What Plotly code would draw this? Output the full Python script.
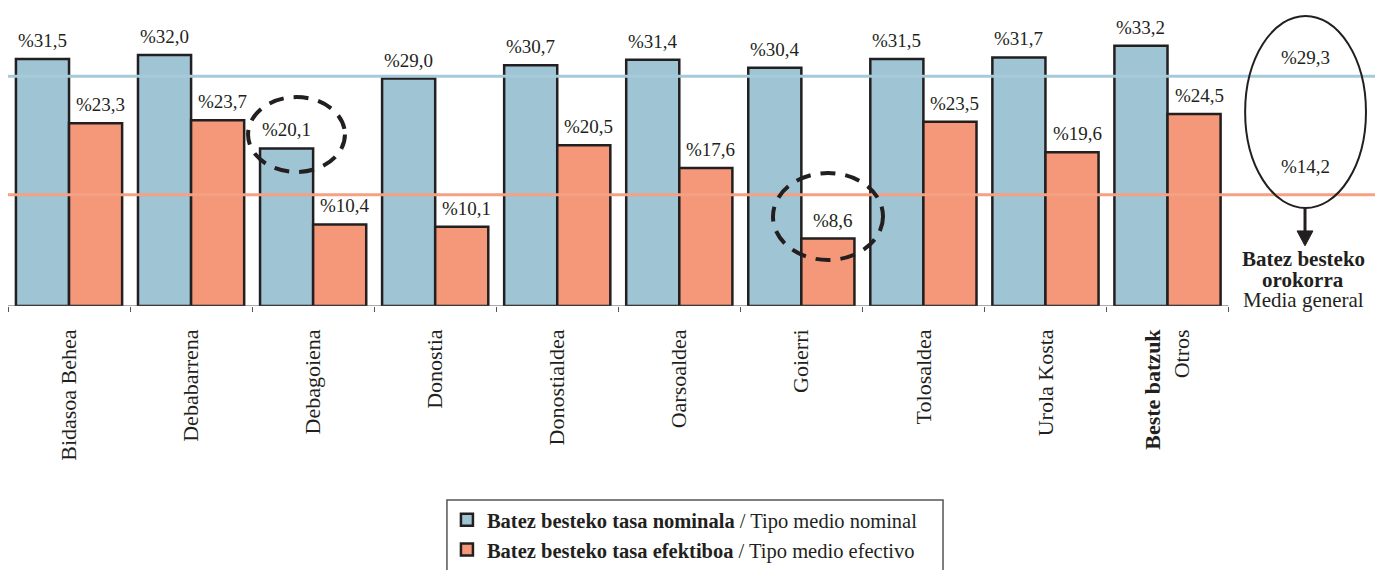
import plotly.graph_objects as go

# data
regions = ["Bidasoa Behea", "Debabarrena", "Debagoiena", "Donostia", "Donostialdea",
           "Oarsoaldea", "Goierri", "Tolosaldea", "Urola Kosta", "<b>Beste batzuk</b><br>Otros"]
nominal = [31.5, 32.0, 20.1, 29.0, 30.7, 31.4, 30.4, 31.5, 31.7, 33.2]
effective = [23.3, 23.7, 10.4, 10.1, 20.5, 17.6, 8.6, 23.5, 19.6, 24.5]
avg_nominal = 29.3
avg_effective = 14.2
series_names = ["<b>Batez besteko tasa nominala</b> / Tipo medio nominal",
                "<b>Batez besteko tasa efektiboa</b> / Tipo medio efectivo"]

BLUE = "#9fc4d4"
ORANGE = "#f5987a"
EDGE = "#231f20"
SERIF = "Liberation Serif"

def pct(v):
    return "%" + f"{v:.1f}".replace(".", ",")

fig = go.Figure()
fig.add_trace(go.Bar(x=regions, y=nominal, name=series_names[0],
                     marker=dict(color=BLUE, line=dict(color=EDGE, width=2.5))))
fig.add_trace(go.Bar(x=regions, y=effective, name=series_names[1],
                     marker=dict(color=ORANGE, line=dict(color=EDGE, width=2.5))))

bargap = 0.13
half = (1 - bargap) / 4  # offset of each bar centre from the category centre

annotations = []
for i, (n, e) in enumerate(zip(nominal, effective)):
    for x, v, dx in ((i - half, n, 0), (i + half, e, 5)):
        annotations.append(dict(x=x, y=v, xref="x", yref="y", text=pct(v), showarrow=False,
                                xanchor="center", yanchor="bottom", xshift=dx, yshift=6,
                                font=dict(family=SERIF, size=19, color="#231f20")))

# general averages, right-hand block
side = dict(xref="paper", yref="paper", showarrow=False, xanchor="center", yanchor="middle")
annotations += [
    dict(x=0.9488, y=0.902, text=pct(avg_nominal),
         font=dict(family=SERIF, size=19, color="#231f20"), **side),
    dict(x=0.9488, y=0.507, text=pct(avg_effective),
         font=dict(family=SERIF, size=19, color="#231f20"), **side),
    dict(x=0.9475, y=0.170, text="<b>Batez besteko</b>",
         font=dict(family=SERIF, size=21, color="#231f20"), **side),
    dict(x=0.9475, y=0.094, text="<b>orokorra</b>",
         font=dict(family=SERIF, size=21, color="#231f20"), **side),
    dict(x=0.9475, y=0.020, text="Media general",
         font=dict(family=SERIF, size=21, color="#231f20"), **side),
]

shapes = [
    # baseline under the regions only
    dict(type="line", xref="x", yref="y", x0=-0.5, x1=len(regions) - 0.5, y0=0, y1=0,
         line=dict(color="#555", width=1)),
    # average lines
    dict(type="line", xref="paper", yref="y", x0=0, x1=1, y0=avg_nominal, y1=avg_nominal,
         line=dict(color="#a6cad9", width=3), layer="above"),
    dict(type="line", xref="paper", yref="y", x0=0, x1=1, y0=avg_effective, y1=avg_effective,
         line=dict(color="#f4a184", width=3), layer="above"),
    # ellipse around general averages
    dict(type="circle", xref="paper", yref="paper", x0=0.905, x1=0.9934, y0=0.355, y1=1.051,
         line=dict(color="#231f20", width=2)),
    # arrow
    dict(type="line", xref="paper", yref="paper", x0=0.9488, x1=0.9488, y0=0.355, y1=0.27,
         line=dict(color="#231f20", width=3)),
    dict(type="path", xref="paper", yref="paper",
         path="M 0.9430 0.272 L 0.9546 0.272 L 0.9488 0.218 Z",
         fillcolor="#231f20", line=dict(color="#231f20", width=1)),
    # dashed highlight circles
    dict(type="circle", xref="paper", yref="paper", x0=0.1756, x1=0.2465, y0=0.4855, y1=0.757,
         line=dict(color="#231f20", width=4, dash="15px,10px"), layer="above"),
    dict(type="circle", xref="paper", yref="paper", x0=0.5596, x1=0.6401, y0=0.1667, y1=0.4819,
         line=dict(color="#231f20", width=4, dash="15px,10px"), layer="above"),
    # legend frame
    dict(type="rect", xref="paper", yref="paper", x0=0.3211, x1=0.684, y0=-0.703, y1=-1.0,
         line=dict(color="#555", width=1.5)),
]

# the page body has an 8px margin, so the figure is sized to sit inside it
fig.update_layout(
    width=1367, height=562,
    margin=dict(l=0, r=0, t=22, b=264, autoexpand=False),
    paper_bgcolor="white", plot_bgcolor="white",
    barmode="group", bargap=bargap, bargroupgap=0,
    showlegend=True,
    legend=dict(x=0.3211, y=-0.703, xanchor="left", yanchor="top",
                borderwidth=0, bgcolor="rgba(0,0,0,0)",
                font=dict(family=SERIF, size=20.5, color="#231f20"),
                tracegroupgap=4),
    xaxis=dict(type="category", range=[-0.5, 10.7], showline=False, showgrid=False,
               zeroline=False, ticks="outside", tickson="boundaries", ticklen=5,
               tickcolor="#555", tickangle=-90, ticklabelstandoff=18, automargin=False,
               tickfont=dict(family=SERIF, size=22, color="#231f20")),
    yaxis=dict(range=[0, 35.2], visible=False, automargin=False),
    annotations=annotations,
    shapes=shapes,
)

fig.write_html("out.html")
